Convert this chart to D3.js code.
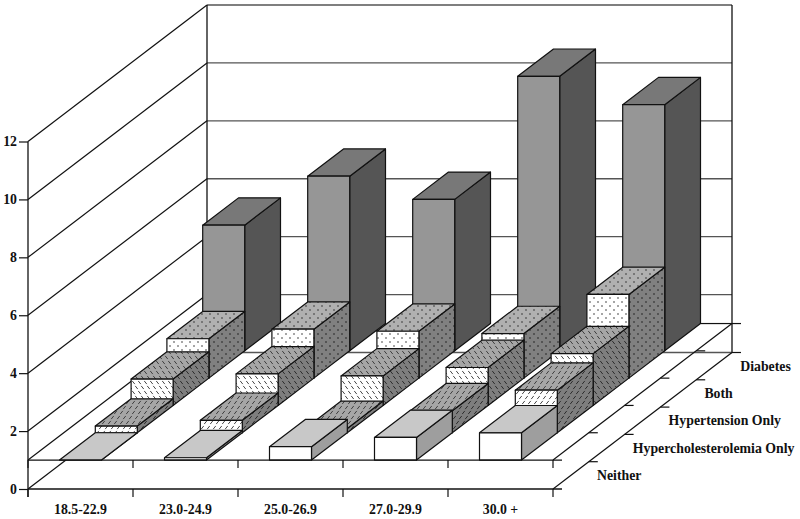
<!DOCTYPE html>
<html>
<head>
<meta charset="utf-8">
<script src="https://cdn.jsdelivr.net/npm/d3@7"></script>
<style>
  html, body { margin: 0; padding: 0; background: #fff; }
  svg { display: block; }
  text { font-family: "Liberation Serif", serif; font-weight: bold; font-size: 13.8px; fill: #111; }
</style>
</head>
<body>
<svg width="800" height="519"></svg>
<script>
const categories = ['18.5-22.9', '23.0-24.9', '25.0-26.9', '27.0-29.9', '30.0 +'];
const seriesNames = ['Neither', 'Hypercholesterolemia Only', 'Hypertension Only', 'Both', 'Diabetes'];
const yTicks = [0, 2, 4, 6, 8, 10, 12];

// values per category, front series first
const neither = [1.0, 1.08, 1.46, 1.78, 1.94];
const hyperchol = [1.23, 1.43, 1.15, 1.76, 2.47];
const hypertension = [1.91, 2.09, 2.02, 2.31, 2.79];
const both = [2.36, 2.69, 2.62, 2.54, 3.89];
const diabetes = [5.34, 7.03, 6.23, 10.48, 9.5];
const seriesValues = [neither, hyperchol, hypertension, both, diabetes];

const floorValue = 1; // bars stand on this level, not on 0

const svg = d3.select('svg');

const x = d3.scaleBand().domain(categories).range([28, 553]).paddingInner(0.6).paddingOuter(0.3);
const y = d3.scaleLinear().domain([0, 12]).range([489, 141.5]);
// oblique depth, one unit per series
const depthX = d3.scaleLinear().domain([0, seriesNames.length]).range([0, 179]);
const depthY = d3.scaleLinear().domain([0, seriesNames.length]).range([0, -136.5]);

const x0 = x.range()[0];
const x1 = x.range()[1];
const backX0 = x0 + depthX(5);
const backX1 = x1 + depthX(5);
const ink = '#111';

// Fill patterns
const defs = svg.append('defs');

function makeHatch(id, bg, mark, dir) {
  const p = defs.append('pattern').attr('id', id)
    .attr('patternUnits', 'userSpaceOnUse').attr('width', 6).attr('height', 10);
  p.append('rect').attr('width', 6).attr('height', 10).attr('fill', bg);
  const segs = [[1.5, 2.5], [4.5, 7.5]];
  segs.forEach(s => {
    p.append('line')
      .attr('x1', s[0] - 1.3 * dir).attr('y1', s[1] + 1.6)
      .attr('x2', s[0] + 1.3 * dir).attr('y2', s[1] - 1.6)
      .attr('stroke', mark).attr('stroke-width', 0.9);
  });
}

function makeDots(id, bg, mark) {
  const p = defs.append('pattern').attr('id', id)
    .attr('patternUnits', 'userSpaceOnUse').attr('width', 8).attr('height', 8);
  p.append('rect').attr('width', 8).attr('height', 8).attr('fill', bg);
  [[2, 2], [6, 6]].forEach(s => {
    p.append('circle').attr('cx', s[0]).attr('cy', s[1]).attr('r', 0.75).attr('fill', mark);
  });
}

makeHatch('fwdFront', '#fff', '#333', 1);
makeHatch('fwdTop', '#a6a6a6', '#333', 1);
makeHatch('fwdSide', '#7e7e7e', '#222', 1);
makeHatch('backFront', '#fff', '#333', -1);
makeHatch('backTop', '#a6a6a6', '#333', -1);
makeHatch('backSide', '#7e7e7e', '#222', -1);
makeDots('dotFront', '#fff', '#222');
makeDots('dotTop', '#b0b0b0', '#222');
makeDots('dotSide', '#808080', '#111');

const faceFills = [
  { front: '#fff', top: '#c8c8c8', side: '#9e9e9e' },
  { front: 'url(#fwdFront)', top: 'url(#fwdTop)', side: 'url(#fwdSide)' },
  { front: 'url(#backFront)', top: 'url(#backTop)', side: 'url(#backSide)' },
  { front: 'url(#dotFront)', top: 'url(#dotTop)', side: 'url(#dotSide)' },
  { front: '#969696', top: '#787878', side: '#555555' }
];

// Back wall
const walls = svg.append('g');
walls.selectAll('.backGrid')
  .data(yTicks)
  .enter().append('line')
  .attr('class', 'backGrid')
  .attr('x1', backX0)
  .attr('x2', backX1)
  .attr('y1', d => y(d) + depthY(5))
  .attr('y2', d => y(d) + depthY(5))
  .attr('stroke', '#555')
  .attr('stroke-width', 1.4);

[backX0, backX1].forEach(vx => {
  walls.append('line')
    .attr('x1', vx).attr('x2', vx)
    .attr('y1', y(12) + depthY(5)).attr('y2', y(0) + depthY(5))
    .attr('stroke', ink).attr('stroke-width', 1.3);
});

// Left wall
walls.selectAll('.sideGrid')
  .data(yTicks.slice(1).concat([floorValue]))
  .enter().append('line')
  .attr('class', 'sideGrid')
  .attr('x1', x0)
  .attr('x2', backX0)
  .attr('y1', d => y(d))
  .attr('y2', d => y(d) + depthY(5))
  .attr('stroke', ink)
  .attr('stroke-width', 1.2);

// the 0 line only shows until it meets the floor front edge
const zeroCut = (y(floorValue) - y(0)) / depthY(5);
walls.append('line')
  .attr('x1', x0).attr('y1', y(0))
  .attr('x2', x0 + depthX(5) * zeroCut).attr('y2', y(floorValue))
  .attr('stroke', ink).attr('stroke-width', 1.2);

// Right side diagonals
[floorValue, 0].forEach(v => {
  walls.append('line')
    .attr('x1', x1).attr('y1', y(v))
    .attr('x2', backX1).attr('y2', y(v) + depthY(5))
    .attr('stroke', ink).attr('stroke-width', 1.2);
});

// Bars, back series first so the nearer ones cover them
const bars = [];
for (let s = seriesNames.length - 1; s >= 0; s--) {
  seriesValues[s].forEach((v, c) => bars.push({ s: s, cat: categories[c], v: v }));
}

function pts(a) {
  return a.map(p => p.join(',')).join(' ');
}

const barG = svg.append('g').selectAll('g')
  .data(bars)
  .enter().append('g')
  .attr('stroke', ink)
  .attr('stroke-width', 1.2)
  .attr('stroke-linejoin', 'round');

function corners(d) {
  const lx = x(d.cat) + depthX(d.s);
  const rx = lx + x.bandwidth();
  const dx = depthX(1);
  const dy = depthY(1);
  const topY = y(d.v) + depthY(d.s);
  const baseY = y(floorValue) + depthY(d.s);
  return { lx, rx, dx, dy, topY, baseY };
}

barG.append('polygon')
  .attr('fill', d => faceFills[d.s].side)
  .attr('points', d => {
    const k = corners(d);
    return pts([[k.rx, k.topY], [k.rx + k.dx, k.topY + k.dy], [k.rx + k.dx, k.baseY + k.dy], [k.rx, k.baseY]]);
  });

barG.append('polygon')
  .attr('fill', d => faceFills[d.s].top)
  .attr('points', d => {
    const k = corners(d);
    return pts([[k.lx, k.topY], [k.lx + k.dx, k.topY + k.dy], [k.rx + k.dx, k.topY + k.dy], [k.rx, k.topY]]);
  });

barG.append('rect')
  .attr('fill', d => faceFills[d.s].front)
  .attr('x', d => corners(d).lx)
  .attr('y', d => corners(d).topY)
  .attr('width', x.bandwidth())
  .attr('height', d => corners(d).baseY - corners(d).topY);

// Axes
const yAxis = d3.axisLeft(y).tickValues(yTicks).tickSize(9).tickPadding(2).tickFormat(d3.format('d'));
const yG = svg.append('g').attr('transform', `translate(${x0},0)`).call(yAxis);

const xEdges = d3.range(categories.length + 1).map(i => x0 + i * x.step());

[floorValue, 0].forEach(v => {
  const g = svg.append('g');
  g.append('line')
    .attr('x1', x0).attr('x2', x1 + 9)
    .attr('y1', y(v)).attr('y2', y(v))
    .attr('stroke', ink).attr('stroke-width', 1.3);
  g.selectAll('.catTick')
    .data(xEdges)
    .enter().append('line')
    .attr('x1', d => d).attr('x2', d => d)
    .attr('y1', y(v)).attr('y2', y(v) + 8)
    .attr('stroke', ink).attr('stroke-width', 1.2);

  // depth ticks along the right side
  g.selectAll('.depthTick')
    .data(d3.range(1, seriesNames.length + 1))
    .enter().append('line')
    .attr('x1', d => x1 + depthX(d)).attr('x2', d => x1 + depthX(d) + 9)
    .attr('y1', d => y(v) + depthY(d)).attr('y2', d => y(v) + depthY(d))
    .attr('stroke', ink).attr('stroke-width', 1.2);
});

// floor back edge, seen only right of the last bar
const lastBar = x(categories[4]) + x.bandwidth() + depthX(5);
svg.append('line')
  .attr('x1', lastBar).attr('x2', backX1)
  .attr('y1', y(floorValue) + depthY(5)).attr('y2', y(floorValue) + depthY(5))
  .attr('stroke', ink).attr('stroke-width', 1.2);

// y axis line runs right down through the lower band
svg.append('line')
  .attr('x1', x0).attr('x2', x0)
  .attr('y1', y(12)).attr('y2', y(0) + 8)
  .attr('stroke', ink).attr('stroke-width', 1.3);

yG.select('.domain').remove();
yG.selectAll('.tick line').attr('stroke', ink).attr('stroke-width', 1.2);
yG.attr('font-family', null).attr('font-size', null);

// Labels
svg.selectAll('.catLabel')
  .data(categories)
  .enter().append('text')
  .attr('class', 'catLabel')
  .attr('x', d => x(d) + x.bandwidth() / 2)
  .attr('y', 514)
  .attr('text-anchor', 'middle')
  .text(d => d);

svg.selectAll('.seriesLabel')
  .data(seriesNames)
  .enter().append('text')
  .attr('class', 'seriesLabel')
  .attr('x', (d, i) => x1 + 44 + depthX(i))
  .attr('y', (d, i) => y(0) - 9 + depthY(i))
  .text(d => d);
</script>
</body>
</html>
